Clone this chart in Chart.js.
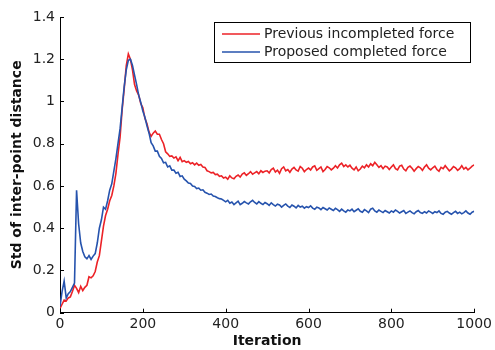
<!DOCTYPE html>
<html>
<head>
<meta charset="utf-8">
<script src="https://cdn.jsdelivr.net/npm/chart.js@4/dist/chart.umd.min.js"></script>
<style>
  html, body { margin: 0; padding: 0; background: #fff; }
  #wrap { width: 495px; height: 350px; }
</style>
</head>
<body>
<div id="wrap"><canvas id="c" width="495" height="350"></canvas></div>
<script>
// ---- data ----
const iterationStep = 5;
const seriesNames = ['Previous incompleted force', 'Proposed completed force'];
const previousForce = [
  0.02,0.04,0.06,0.055,0.07,0.075,0.10,0.13,0.115,0.095,0.125,0.105,0.12,0.13,0.17,0.165,0.175,0.195,0.24,0.27,
  0.34,0.41,0.46,0.49,0.53,0.555,0.60,0.66,0.75,0.83,0.96,1.06,1.17,1.225,1.20,1.15,1.08,1.05,1.03,0.99,
  0.97,0.92,0.895,0.855,0.835,0.85,0.86,0.845,0.845,0.82,0.80,0.762,0.752,0.74,0.742,0.732,0.738,0.72,0.735,0.715,
  0.72,0.712,0.716,0.705,0.71,0.70,0.708,0.698,0.702,0.69,0.688,0.672,0.668,0.662,0.664,0.654,0.656,0.646,0.648,0.638,
  0.642,0.632,0.648,0.638,0.634,0.646,0.652,0.642,0.656,0.662,0.65,0.658,0.668,0.656,0.662,0.668,0.658,0.672,0.664,0.67,
  0.672,0.662,0.678,0.684,0.666,0.675,0.66,0.682,0.69,0.672,0.678,0.665,0.68,0.688,0.676,0.67,0.692,0.684,0.668,0.678,
  0.685,0.676,0.69,0.695,0.674,0.682,0.69,0.668,0.678,0.692,0.686,0.676,0.684,0.696,0.685,0.70,0.708,0.692,0.70,0.69,
  0.698,0.684,0.676,0.69,0.672,0.68,0.694,0.686,0.70,0.69,0.705,0.696,0.712,0.70,0.688,0.696,0.682,0.694,0.69,0.678,
  0.69,0.70,0.682,0.676,0.694,0.698,0.68,0.672,0.688,0.694,0.684,0.67,0.682,0.692,0.686,0.674,0.69,0.70,0.684,0.676,
  0.686,0.694,0.678,0.67,0.688,0.682,0.696,0.684,0.672,0.68,0.692,0.686,0.674,0.682,0.696,0.68,0.688,0.676,0.684,0.694,
  0.70
];
const proposedForce = [
  0.03,0.10,0.15,0.07,0.09,0.10,0.12,0.14,0.58,0.42,0.33,0.29,0.265,0.255,0.27,0.252,0.268,0.28,0.33,0.40,
  0.44,0.50,0.49,0.53,0.58,0.61,0.67,0.73,0.80,0.87,0.97,1.07,1.15,1.195,1.20,1.17,1.125,1.08,1.03,0.995,
  0.955,0.925,0.885,0.85,0.805,0.79,0.765,0.765,0.74,0.73,0.71,0.712,0.69,0.695,0.675,0.675,0.66,0.665,0.645,0.648,
  0.632,0.624,0.614,0.612,0.60,0.598,0.588,0.59,0.58,0.582,0.57,0.566,0.56,0.562,0.552,0.55,0.544,0.54,0.538,0.532,
  0.525,0.532,0.518,0.524,0.512,0.52,0.528,0.512,0.518,0.526,0.52,0.515,0.525,0.532,0.522,0.515,0.526,0.518,0.512,0.522,
  0.516,0.508,0.52,0.512,0.505,0.514,0.51,0.50,0.508,0.515,0.505,0.498,0.51,0.504,0.496,0.508,0.50,0.504,0.495,0.502,
  0.498,0.506,0.495,0.49,0.50,0.496,0.488,0.498,0.492,0.486,0.496,0.49,0.484,0.494,0.488,0.48,0.49,0.482,0.476,0.486,
  0.482,0.49,0.478,0.485,0.492,0.48,0.476,0.488,0.482,0.474,0.49,0.495,0.482,0.476,0.486,0.48,0.474,0.484,0.478,0.472,
  0.482,0.476,0.486,0.48,0.472,0.478,0.484,0.47,0.476,0.482,0.474,0.468,0.478,0.484,0.474,0.47,0.478,0.472,0.482,0.476,
  0.47,0.478,0.474,0.482,0.47,0.466,0.476,0.48,0.472,0.466,0.474,0.48,0.47,0.476,0.468,0.474,0.482,0.472,0.466,0.476,
  0.48
];
const xTickValues = [0, 200, 400, 600, 800, 1000];
const yTickValues = [0, 0.2, 0.4, 0.6, 0.8, 1, 1.2, 1.4];
const xTitle = 'Iteration';
const yTitle = 'Std of inter-point distance';

// ---- build ----
const iterations = previousForce.map((_, i) => i * iterationStep);
const toPoints = arr => arr.map((v, i) => ({ x: iterations[i], y: v }));

const FONT = 'DejaVu Sans';
const RED = '#ec2227';
const BLUE = '#2653ad';

const matlabDecor = {
  id: 'matlabDecor',
  afterDatasetsDraw(chart) {
    const { ctx, chartArea: a, scales: { x, y } } = chart;
    ctx.save();
    ctx.strokeStyle = '#000';
    ctx.lineWidth = 1;
    ctx.beginPath();
    xTickValues.forEach(v => {
      const px = Math.round(x.getPixelForValue(v)) + 0.5;
      ctx.moveTo(px, a.bottom);
      ctx.lineTo(px, a.bottom - 4);
    });
    yTickValues.forEach(v => {
      const py = Math.round(y.getPixelForValue(v)) + 0.5;
      ctx.moveTo(a.left, py);
      ctx.lineTo(a.left + 4, py);
    });
    ctx.stroke();

    // legend box
    const bx = 214.5, by = 22.5, bw = 256, bh = 40;
    ctx.fillStyle = '#fff';
    ctx.fillRect(bx, by, bw, bh);
    ctx.strokeStyle = '#000';
    ctx.lineWidth = 1;
    ctx.strokeRect(bx, by, bw, bh);
    const rows = [34, 52];
    ctx.font = '14px "' + FONT + '"';
    ctx.textBaseline = 'middle';
    ctx.textAlign = 'left';
    chart.data.datasets.forEach((ds, i) => {
      ctx.strokeStyle = ds.borderColor;
      ctx.lineWidth = 1.5;
      ctx.beginPath();
      ctx.moveTo(222, rows[i]);
      ctx.lineTo(260, rows[i]);
      ctx.stroke();
      ctx.fillStyle = '#222';
      ctx.fillText(ds.label, 264, rows[i]);
    });
    ctx.restore();
  }
};

new Chart(document.getElementById('c'), {
  type: 'line',
  data: {
    datasets: [
      { label: seriesNames[0], data: toPoints(previousForce), borderColor: RED, borderWidth: 1.6, pointRadius: 0, tension: 0, order: 1 },
      { label: seriesNames[1], data: toPoints(proposedForce), borderColor: BLUE, borderWidth: 1.6, pointRadius: 0, tension: 0, order: 0 }
    ]
  },
  options: {
    responsive: false,
    animation: false,
    devicePixelRatio: 1,
    layout: { padding: { top: 17, right: 19, left: 0, bottom: 0 } },
    plugins: { legend: { display: false }, tooltip: { enabled: false } },
    scales: {
      x: {
        type: 'linear', min: 0, max: 1000,
        afterBuildTicks: s => { s.ticks = xTickValues.map(v => ({ value: v })); },
        afterFit: s => { s.height = 37.3; },
        grid: { display: false, drawTicks: false },
        border: { display: true, color: '#000', width: 1 },
        ticks: { color: '#222', font: { family: FONT, size: 14 }, padding: 3, maxRotation: 0, callback: v => String(v) },
        title: { display: true, text: xTitle, color: '#111', font: { family: FONT, size: 14, weight: 'bold' }, padding: { top: 0, bottom: 0 } }
      },
      y: {
        type: 'linear', min: 0, max: 1.4,
        afterBuildTicks: s => { s.ticks = yTickValues.map(v => ({ value: v })); },
        afterFit: s => { s.width = 60; },
        grid: { display: false, drawTicks: false },
        border: { display: true, color: '#000', width: 1 },
        ticks: { color: '#222', font: { family: FONT, size: 14 }, padding: 5, callback: v => String(+v.toFixed(1)) },
        title: { display: true, text: yTitle, color: '#111', font: { family: FONT, size: 14, weight: 'bold' }, padding: { top: 9, bottom: 0 } }
      }
    }
  },
  plugins: [matlabDecor]
});
</script>
</body>
</html>
